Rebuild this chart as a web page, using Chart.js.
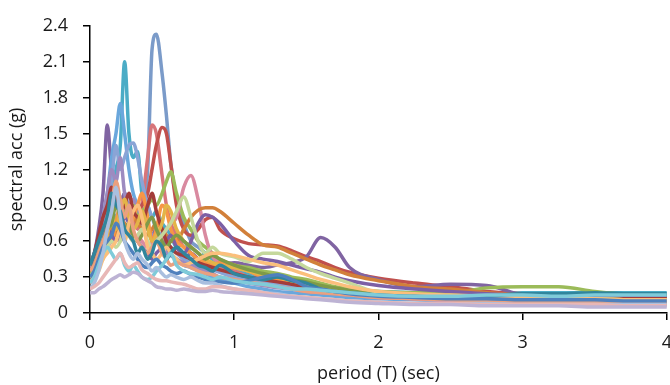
<!DOCTYPE html>
<html>
<head>
<meta charset="utf-8">
<script src="https://cdn.jsdelivr.net/npm/chart.js@4/dist/chart.umd.min.js"></script>
<style>
  html, body { margin: 0; padding: 0; background: #fff; overflow: hidden; }
  #wrap { width: 684px; height: 385px; }
</style>
</head>
<body>
<div id="wrap"><canvas id="spectraChart" width="684" height="385"></canvas></div>
<script>
// periods (sec) shared by every record
var periods = [0, 0.03, 0.06, 0.09, 0.12, 0.15, 0.18, 0.21, 0.24, 0.27, 0.3,
  0.33, 0.36, 0.4, 0.43, 0.46, 0.5, 0.53, 0.56, 0.6, 0.65, 0.7,
  0.75, 0.8, 0.85, 0.9, 1.0, 1.1, 1.2, 1.3, 1.4, 1.5, 1.6,
  1.7, 1.8, 2.0, 2.25, 2.5, 2.75, 3.0, 3.25, 3.5, 3.75, 4.0];

var xTicks = [0, 1, 2, 3, 4];
var yTicks = [0, 0.3, 0.6, 0.9, 1.2, 1.5, 1.8, 2.1, 2.4];

// spectral acceleration (g) of each record
var rec01 = [0.3, 0.4, 0.55, 0.8, 1.0, 1.3, 1.5, 1.75, 1.5, 1.2, 1.0,
  0.9, 0.8, 0.7, 0.65, 0.6, 0.55, 0.6, 0.5, 0.45, 0.4, 0.38,
  0.35, 0.33, 0.3, 0.28, 0.25, 0.22, 0.2, 0.18, 0.17, 0.16, 0.15,
  0.14, 0.13, 0.12, 0.11, 0.1, 0.1, 0.09, 0.09, 0.09, 0.08, 0.08];
var rec02 = [0.35, 0.4, 0.5, 0.55, 0.6, 0.7, 0.75, 0.8, 0.7, 0.75, 0.8,
  0.85, 0.9, 1.0, 1.2, 1.4, 1.55, 1.5, 1.25, 0.9, 0.7, 0.65,
  0.7, 0.78, 0.8, 0.7, 0.62, 0.58, 0.57, 0.56, 0.52, 0.47, 0.43,
  0.38, 0.34, 0.29, 0.25, 0.22, 0.18, 0.16, 0.15, 0.14, 0.14, 0.14];
var rec03 = [0.3, 0.4, 0.45, 0.55, 0.6, 0.7, 0.8, 0.75, 0.85, 0.8, 0.9,
  0.8, 0.85, 0.9, 0.95, 0.9, 1.0, 1.1, 1.18, 1.0, 0.8, 0.7,
  0.6, 0.55, 0.5, 0.45, 0.4, 0.38, 0.35, 0.33, 0.3, 0.28, 0.25,
  0.22, 0.2, 0.18, 0.17, 0.17, 0.21, 0.22, 0.22, 0.18, 0.15, 0.14];
var rec04 = [0.4, 0.5, 0.7, 1.0, 1.57, 1.2, 1.1, 0.9, 1.0, 0.85, 0.8,
  0.9, 0.75, 0.7, 0.65, 0.7, 0.6, 0.55, 0.5, 0.55, 0.45, 0.5,
  0.45, 0.4, 0.38, 0.4, 0.42, 0.4, 0.38, 0.4, 0.42, 0.47, 0.63,
  0.55, 0.38, 0.28, 0.22, 0.24, 0.23, 0.15, 0.13, 0.12, 0.11, 0.11];
var rec05 = [0.3, 0.45, 0.6, 0.7, 0.9, 1.0, 1.2, 1.4, 2.1, 1.5, 1.3,
  1.35, 1.0, 0.9, 0.8, 0.85, 0.75, 0.7, 0.65, 0.55, 0.6, 0.5,
  0.45, 0.5, 0.45, 0.4, 0.35, 0.32, 0.3, 0.3, 0.28, 0.25, 0.22,
  0.2, 0.19, 0.18, 0.17, 0.16, 0.16, 0.17, 0.17, 0.17, 0.17, 0.17];
var rec06 = [0.3, 0.35, 0.45, 0.55, 0.6, 0.7, 0.65, 0.8, 0.75, 0.7, 0.8,
  0.75, 0.7, 0.65, 0.7, 0.75, 0.7, 0.65, 0.6, 0.6, 0.7, 0.8,
  0.86, 0.88, 0.88, 0.85, 0.75, 0.65, 0.57, 0.55, 0.5, 0.45, 0.4,
  0.36, 0.32, 0.27, 0.22, 0.2, 0.17, 0.15, 0.14, 0.13, 0.12, 0.12];
var rec07 = [0.35, 0.4, 0.5, 0.6, 0.75, 0.85, 0.8, 0.9, 1.0, 0.85, 0.8,
  0.75, 0.9, 1.2, 2.2, 2.33, 2.0, 1.65, 1.25, 0.95, 0.75, 0.6,
  0.55, 0.5, 0.45, 0.42, 0.38, 0.33, 0.3, 0.27, 0.25, 0.22, 0.2,
  0.19, 0.18, 0.16, 0.14, 0.13, 0.12, 0.12, 0.11, 0.11, 0.1, 0.1];
var rec08 = [0.3, 0.35, 0.5, 0.6, 0.8, 0.9, 1.0, 0.95, 0.85, 0.9, 0.8,
  0.7, 0.9, 1.3, 1.57, 1.5, 1.15, 0.9, 0.75, 0.65, 0.55, 0.5,
  0.45, 0.4, 0.4, 0.38, 0.35, 0.3, 0.28, 0.26, 0.24, 0.22, 0.2,
  0.18, 0.17, 0.15, 0.13, 0.12, 0.11, 0.1, 0.1, 0.09, 0.09, 0.09];
var rec09 = [0.25, 0.3, 0.4, 0.5, 0.55, 0.6, 0.65, 0.6, 0.7, 0.65, 0.6,
  0.65, 0.6, 0.55, 0.6, 0.65, 0.6, 0.7, 0.75, 0.8, 1.05, 1.15,
  0.95, 0.65, 0.47, 0.42, 0.38, 0.35, 0.3, 0.28, 0.25, 0.23, 0.2,
  0.18, 0.16, 0.13, 0.12, 0.1, 0.09, 0.08, 0.08, 0.07, 0.07, 0.07];
var rec10 = [0.3, 0.4, 0.6, 0.8, 0.9, 1.1, 1.4, 1.2, 1.3, 1.4, 1.42,
  1.3, 1.1, 0.9, 0.8, 0.7, 0.65, 0.6, 0.55, 0.5, 0.45, 0.42,
  0.4, 0.38, 0.36, 0.34, 0.3, 0.28, 0.26, 0.24, 0.22, 0.2, 0.18,
  0.17, 0.16, 0.14, 0.12, 0.11, 0.1, 0.1, 0.09, 0.09, 0.09, 0.09];
var rec11 = [0.4, 0.5, 0.6, 0.7, 0.8, 1.0, 0.9, 0.85, 0.7, 0.65, 0.6,
  0.5, 0.55, 0.45, 0.5, 0.6, 0.55, 0.45, 0.5, 0.55, 0.5, 0.45,
  0.4, 0.38, 0.35, 0.4, 0.33, 0.3, 0.28, 0.3, 0.27, 0.25, 0.2,
  0.18, 0.17, 0.15, 0.14, 0.13, 0.14, 0.16, 0.16, 0.17, 0.16, 0.16];
var rec12 = [0.35, 0.4, 0.5, 0.6, 0.7, 0.6, 0.75, 0.9, 0.7, 0.65, 0.8,
  0.9, 1.0, 0.8, 0.6, 0.7, 0.9, 0.85, 0.7, 0.6, 0.55, 0.5,
  0.45, 0.42, 0.4, 0.42, 0.4, 0.35, 0.3, 0.28, 0.25, 0.22, 0.2,
  0.18, 0.17, 0.15, 0.14, 0.13, 0.12, 0.11, 0.11, 0.1, 0.1, 0.1];
var rec13 = [0.17, 0.17, 0.2, 0.22, 0.25, 0.28, 0.3, 0.32, 0.3, 0.32, 0.34,
  0.33, 0.3, 0.27, 0.25, 0.22, 0.21, 0.2, 0.2, 0.19, 0.2, 0.19,
  0.18, 0.18, 0.19, 0.18, 0.17, 0.16, 0.15, 0.14, 0.13, 0.12, 0.11,
  0.1, 0.09, 0.08, 0.07, 0.07, 0.06, 0.06, 0.06, 0.05, 0.05, 0.05];
var rec14 = [0.2, 0.22, 0.25, 0.3, 0.35, 0.4, 0.45, 0.5, 0.42, 0.38, 0.4,
  0.42, 0.36, 0.33, 0.3, 0.28, 0.27, 0.27, 0.26, 0.25, 0.24, 0.22,
  0.2, 0.2, 0.22, 0.22, 0.2, 0.19, 0.17, 0.15, 0.14, 0.13, 0.12,
  0.11, 0.1, 0.09, 0.08, 0.08, 0.07, 0.07, 0.07, 0.07, 0.06, 0.06];
var rec15 = [0.2, 0.25, 0.35, 0.5, 0.7, 0.85, 1.05, 0.8, 0.6, 0.5, 0.45,
  0.5, 0.45, 0.4, 0.35, 0.38, 0.33, 0.3, 0.32, 0.3, 0.28, 0.3,
  0.27, 0.25, 0.25, 0.23, 0.2, 0.18, 0.17, 0.16, 0.14, 0.13, 0.12,
  0.11, 0.1, 0.09, 0.08, 0.08, 0.08, 0.07, 0.07, 0.07, 0.07, 0.07];
var rec16 = [0.3, 0.35, 0.4, 0.45, 0.55, 0.6, 0.55, 0.6, 0.7, 0.65, 0.6,
  0.65, 0.7, 0.6, 0.55, 0.6, 0.65, 0.7, 0.75, 0.85, 0.97, 0.8,
  0.6, 0.5, 0.55, 0.5, 0.47, 0.43, 0.5, 0.5, 0.45, 0.38, 0.33,
  0.29, 0.25, 0.17, 0.15, 0.14, 0.13, 0.13, 0.12, 0.12, 0.11, 0.11];
var rec17 = [0.3, 0.35, 0.45, 0.6, 0.7, 0.65, 0.6, 0.7, 0.8, 0.75, 0.65,
  0.6, 0.55, 0.5, 0.45, 0.5, 0.55, 0.6, 0.65, 0.55, 0.5, 0.6,
  0.75, 0.82, 0.8, 0.75, 0.6, 0.48, 0.45, 0.43, 0.4, 0.37, 0.34,
  0.3, 0.27, 0.23, 0.2, 0.18, 0.16, 0.15, 0.14, 0.13, 0.13, 0.13];
var rec18 = [0.25, 0.3, 0.35, 0.45, 0.5, 0.55, 0.6, 0.7, 0.6, 0.75, 0.85,
  0.9, 0.8, 0.55, 0.5, 0.45, 0.5, 0.55, 0.5, 0.45, 0.4, 0.42,
  0.45, 0.48, 0.5, 0.5, 0.48, 0.45, 0.42, 0.4, 0.36, 0.32, 0.28,
  0.25, 0.22, 0.18, 0.16, 0.15, 0.14, 0.13, 0.12, 0.12, 0.11, 0.11];
var rec19 = [0.25, 0.3, 0.4, 0.5, 0.55, 0.5, 0.45, 0.5, 0.4, 0.35, 0.4,
  0.35, 0.3, 0.28, 0.3, 0.35, 0.4, 0.45, 0.5, 0.4, 0.35, 0.33,
  0.32, 0.3, 0.28, 0.3, 0.27, 0.25, 0.24, 0.22, 0.2, 0.2, 0.19,
  0.18, 0.17, 0.15, 0.14, 0.14, 0.15, 0.15, 0.14, 0.15, 0.15, 0.15];
var rec20 = [0.3, 0.35, 0.45, 0.55, 0.6, 0.65, 0.75, 0.7, 0.6, 0.55, 0.5,
  0.45, 0.4, 0.38, 0.42, 0.45, 0.4, 0.38, 0.35, 0.33, 0.35, 0.32,
  0.3, 0.28, 0.27, 0.26, 0.25, 0.27, 0.3, 0.32, 0.28, 0.22, 0.2,
  0.18, 0.16, 0.14, 0.13, 0.12, 0.12, 0.11, 0.11, 0.11, 0.1, 0.1];
var rec21 = [0.35, 0.4, 0.5, 0.6, 0.7, 0.9, 1.1, 0.95, 0.8, 0.9, 0.7,
  0.6, 0.55, 0.5, 0.55, 0.6, 0.5, 0.45, 0.4, 0.42, 0.4, 0.38,
  0.35, 0.33, 0.32, 0.3, 0.28, 0.26, 0.24, 0.22, 0.2, 0.18, 0.17,
  0.16, 0.15, 0.13, 0.12, 0.11, 0.1, 0.1, 0.09, 0.09, 0.09, 0.09];
var rec22 = [0.35, 0.45, 0.6, 0.8, 1.0, 1.2, 1.1, 1.3, 1.0, 0.9, 0.95,
  0.85, 0.75, 0.7, 0.65, 0.6, 0.55, 0.5, 0.48, 0.45, 0.42, 0.4,
  0.38, 0.35, 0.33, 0.3, 0.28, 0.25, 0.23, 0.21, 0.2, 0.18, 0.17,
  0.16, 0.15, 0.13, 0.12, 0.11, 0.1, 0.1, 0.09, 0.09, 0.08, 0.08];
var rec23 = [0.4, 0.5, 0.65, 0.8, 0.9, 1.05, 0.95, 0.85, 0.9, 1.0, 0.85,
  0.8, 0.75, 0.9, 1.0, 0.85, 0.7, 0.6, 0.55, 0.5, 0.48, 0.45,
  0.42, 0.4, 0.38, 0.36, 0.33, 0.3, 0.28, 0.26, 0.24, 0.22, 0.2,
  0.19, 0.18, 0.16, 0.15, 0.14, 0.13, 0.13, 0.12, 0.12, 0.12, 0.12];
var rec24 = [0.3, 0.35, 0.45, 0.55, 0.65, 0.8, 0.7, 0.85, 0.95, 0.8, 0.7,
  0.75, 0.85, 0.7, 0.6, 0.65, 0.75, 0.9, 0.85, 0.7, 0.6, 0.55,
  0.5, 0.45, 0.42, 0.4, 0.38, 0.35, 0.32, 0.3, 0.27, 0.24, 0.22,
  0.2, 0.18, 0.16, 0.14, 0.13, 0.12, 0.12, 0.11, 0.11, 0.1, 0.1];
var rec25 = [0.35, 0.4, 0.5, 0.6, 0.7, 0.75, 0.9, 0.8, 0.7, 0.75, 0.65,
  0.6, 0.65, 0.75, 0.8, 0.7, 0.6, 0.55, 0.6, 0.65, 0.6, 0.55,
  0.5, 0.45, 0.48, 0.45, 0.4, 0.36, 0.33, 0.3, 0.28, 0.26, 0.23,
  0.21, 0.19, 0.17, 0.15, 0.14, 0.13, 0.13, 0.12, 0.12, 0.11, 0.11];

// drawing order (first is at the back) and line colours
var records = [rec13, rec14, rec15, rec19, rec20, rec11, rec21, rec18, rec16,
  rec25, rec24, rec23, rec17, rec12, rec06, rec09, rec03, rec22, rec10,
  rec01, rec04, rec02, rec08, rec05, rec07];
var colors = ["#bdb3d4", "#e8b7b6", "#a9bfdf", "#7fcbd9", "#4f81bd", "#31859c",
  "#eaa07f", "#fbbf7c", "#c5d89c", "#7f9a48", "#e3b448", "#a33c3a",
  "#7c5fa5", "#f79646", "#d2803a", "#d98aa0", "#9bbb59", "#9d8bc0",
  "#8aa4d6", "#6aa7dc", "#8064a2", "#c0504d", "#d7757a", "#4bacc6",
  "#7b9bc9"];

function toPoints(values) {
  return values.map(function (v, i) {
    return { x: periods[i], y: v };
  });
}

var datasets = records.map(function (values, i) {
  return {
    label: "record " + (i + 1),
    data: toPoints(values),
    borderColor: colors[i],
    borderWidth: 3.5,
    pointRadius: 0,
    cubicInterpolationMode: "monotone",
    fill: false,
  };
});

var textColor = "#1a1a1a";
var fontFamily = "'Open Sans', 'DejaVu Sans', sans-serif";

var ctx = document.getElementById("spectraChart").getContext("2d");
new Chart(ctx, {
  type: "line",
  data: { datasets: datasets },
  options: {
    responsive: false,
    animation: false,
    layout: { padding: { top: 16, right: 17, left: 0, bottom: 0 } },
    plugins: {
      legend: { display: false },
      tooltip: { enabled: false },
    },
    scales: {
      x: {
        type: "linear",
        min: 0,
        max: 4,
        afterBuildTicks: function (scale) {
          scale.ticks = xTicks.map(function (v) { return { value: v }; });
        },
        ticks: {
          color: textColor,
          font: { family: fontFamily, size: 18 },
          padding: 12,
          maxRotation: 0,
          callback: function (v) { return String(v); },
        },
        grid: {
          drawOnChartArea: false,
          drawTicks: true,
          tickLength: 7,
          color: "#000",
          lineWidth: 1.5,
        },
        border: { color: "#000", width: 1.5 },
        title: {
          display: true,
          text: "period (T) (sec)",
          color: textColor,
          font: { family: fontFamily, size: 18 },
          padding: { top: 0, bottom: 0 },
        },
        afterFit: function (scale) { scale.height = 72; },
      },
      y: {
        type: "linear",
        min: 0,
        max: 2.4,
        afterBuildTicks: function (scale) {
          scale.ticks = yTicks.map(function (v) { return { value: v }; });
        },
        ticks: {
          color: textColor,
          font: { family: fontFamily, size: 18 },
          padding: 15,
          callback: function (v) { return v === 0 ? "0" : v.toFixed(1); },
        },
        grid: {
          drawOnChartArea: false,
          drawTicks: true,
          tickLength: 7,
          color: "#000",
          lineWidth: 1.5,
        },
        border: { color: "#000", width: 1.5 },
        title: {
          display: true,
          text: "spectral acc (g)",
          color: textColor,
          font: { family: fontFamily, size: 18 },
          padding: { top: 6, bottom: 4 },
        },
        afterFit: function (scale) { scale.width = 90; },
      },
    },
  },
});
</script>
</body>
</html>
